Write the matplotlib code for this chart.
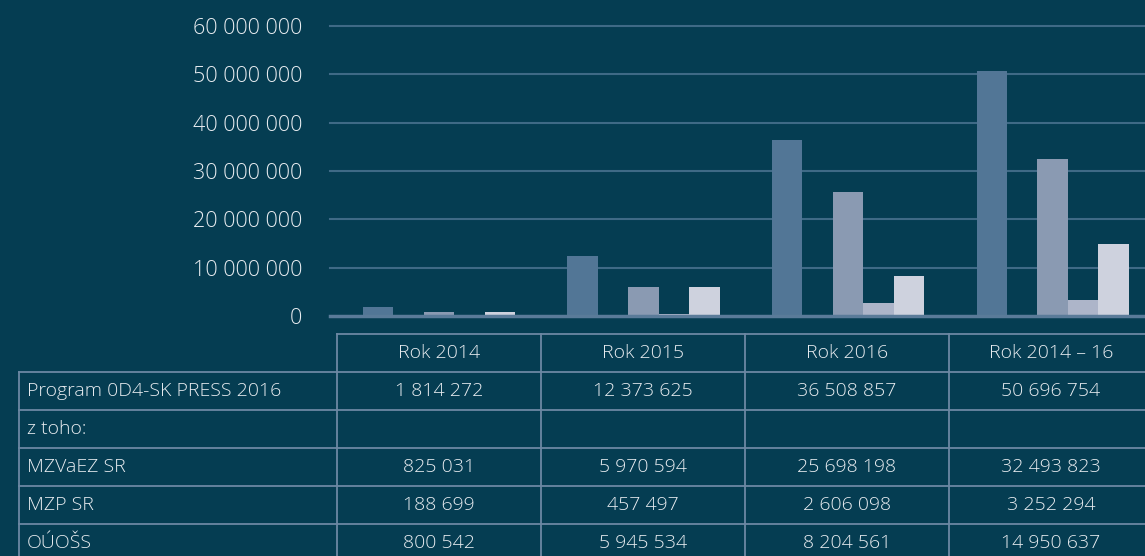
import matplotlib
matplotlib.use('Agg')
import matplotlib.pyplot as plt
import numpy as np

# data
years = ['Rok 2014', 'Rok 2015', 'Rok 2016', 'Rok 2014 – 16']
rows = ['Program 0D4-SK PRESS 2016', 'z toho:', 'MZVaEZ SR', 'MZP SR', 'OÚOŠS']
program = [1814272, 12373625, 36508857, 50696754]
ztoho = [None, None, None, None]
mzvaez = [825031, 5970594, 25698198, 32493823]
mzp = [188699, 457497, 2606098, 3252294]
ouoss = [800542, 5945534, 8204561, 14950637]
series = [program, ztoho, mzvaez, mzp, ouoss]
colors = ['#527696', '#527696', '#8a9ab2', '#adb5c9', '#ced2de']

bg = '#053d52'
txt = '#e8ecf0'
plt.rcParams['font.family'] = ['Open Sans', 'DejaVu Sans']

W, H = 1145, 556
fig = plt.figure(figsize=(W/100, H/100), dpi=100, facecolor=bg)

# chart axes in pixel placement
left, right, bottom, top = 330, 1145, 316, 26
ax = fig.add_axes([left/W, (H-bottom)/H, (right-left)/W, (bottom-top)/H])
ax.set_facecolor(bg)
x = np.arange(len(years))
bw = 0.1487
for k, s in enumerate(series):
    vals = [np.nan if v is None else v for v in s]
    ax.bar(x + (k-2)*bw, vals, width=bw, color=colors[k], align='center', zorder=3, linewidth=0)
ax.set_xlim(-0.533, 3.452)
ax.set_ylim(0, 60000000)
yt = np.arange(0, 60000001, 10000000)
ax.set_yticks(yt)
ax.set_yticklabels(['{:,}'.format(int(v)).replace(',', ' ') for v in yt], color=txt, fontsize=15.5, fontweight='light')
ax.tick_params(axis='y', length=0, pad=20)
ax.set_xticks([])
for v in yt[1:]:
    ax.axhline(v, color='#3f6a86', lw=1.5, zorder=1, clip_on=False)
ax.axhline(0, color='#5a7b99', lw=2.5, zorder=4, clip_on=False)
for sp in ax.spines.values():
    sp.set_visible(False)

# table
tax = fig.add_axes([0, 0, 1, 1])
tax.set_xlim(0, W)
tax.set_ylim(H, 0)
tax.axis('off')
lc = '#6d88a3'
colx = [19, 337, 541, 745, 949, 1153]
rowy = [334, 372, 410, 448, 486, 524, 562]
fs = 14
# header row (data columns only)
tax.plot([colx[1], colx[-1]], [rowy[0], rowy[0]], color=lc, lw=1.3)
for i in range(1, len(rowy)):
    tax.plot([colx[0], colx[-1]], [rowy[i], rowy[i]], color=lc, lw=1.3)
for j, cx in enumerate(colx):
    y0 = rowy[1] if j == 0 else rowy[0]
    tax.plot([cx, cx], [y0, rowy[-1]], color=lc, lw=1.3)
for j, yname in enumerate(years):
    tax.text((colx[j+1]+colx[j+2])/2, (rowy[0]+rowy[1])/2, yname, color=txt,
             fontsize=fs, fontweight='light', ha='center', va='center')
for i, rname in enumerate(rows):
    yc = (rowy[i+1]+rowy[i+2])/2
    tax.text(colx[0]+8, yc, rname, color=txt, fontsize=fs, fontweight='light', ha='left', va='center')
    for j in range(len(years)):
        v = series[i][j]
        if v is not None:
            tax.text((colx[j+1]+colx[j+2])/2, yc, '{:,}'.format(v).replace(',', ' '), color=txt,
                     fontsize=fs, fontweight='light', ha='center', va='center')

fig.savefig('out.png', dpi=100, facecolor=bg)
